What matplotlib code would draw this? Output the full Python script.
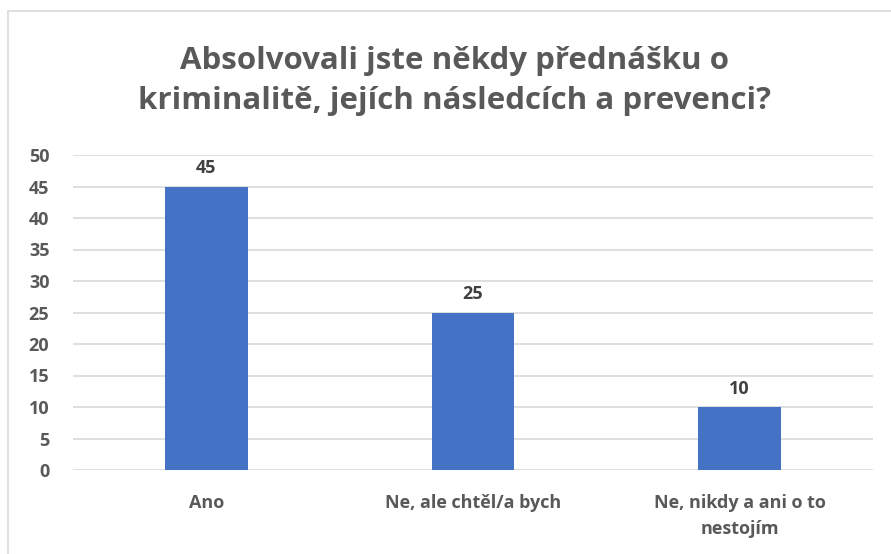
import matplotlib.pyplot as plt
from matplotlib.patches import Rectangle

categories = ["Ano", "Ne, ale chtěl/a bych", "Ne, nikdy a ani o to\nnestojím"]
values = [45, 25, 10]
yticks = [0, 5, 10, 15, 20, 25, 30, 35, 40, 45, 50]
title = "Absolvovali jste někdy přednášku o\nkriminalitě, jejích následcích a prevenci?"

BAR_COLOR = "#4472c4"
TEXT_GRAY = "#595959"
GRID_GRAY = "#d9d9d9"

plt.rcParams["font.family"] = ["Open Sans", "DejaVu Sans"]

W, H = 891, 554
fig = plt.figure(figsize=(W / 100, H / 100), dpi=100)

# chart frame (cropped on right/bottom in the reference)
fig.patches.append(Rectangle((8 / W, -0.1), 1.2, 1 - 11 / H + 0.1, transform=fig.transFigure,
                             fill=False, edgecolor=GRID_GRAY, linewidth=1.2))

ax = fig.add_axes([73 / W, 1 - 470 / H, 800 / W, 315 / H])
x = range(len(categories))
bars = ax.bar(x, values, width=0.31, color=BAR_COLOR, zorder=3)

for bar, v in zip(bars, values):
    ax.text(bar.get_x() + bar.get_width() / 2, v + 1.5, f"{v}", ha="center", va="bottom",
            fontsize=13, fontweight="bold", color="#404040")

ax.set_xlim(-0.5, len(categories) - 0.5)
ax.set_ylim(0, 50)
ax.set_yticks(yticks)
ax.set_xticks(list(x))
ax.set_xticklabels(categories, fontsize=13, fontweight="bold", color=TEXT_GRAY, linespacing=1.6)
for lbl in ax.get_yticklabels():
    lbl.set_fontsize(13)
    lbl.set_fontweight("bold")
    lbl.set_color(TEXT_GRAY)
ax.tick_params(axis="both", length=0)
ax.tick_params(axis="x", pad=17)
ax.tick_params(axis="y", pad=17)
ax.grid(axis="y", color=GRID_GRAY, linewidth=1.2, zorder=0)
for s in ax.spines.values():
    s.set_visible(False)

fig.text(454 / W, 1 - 81 / H, title, ha="center", va="center", fontsize=22.5,
         fontweight="bold", color=TEXT_GRAY, linespacing=1.45)

fig.savefig("out.png", dpi=100)
